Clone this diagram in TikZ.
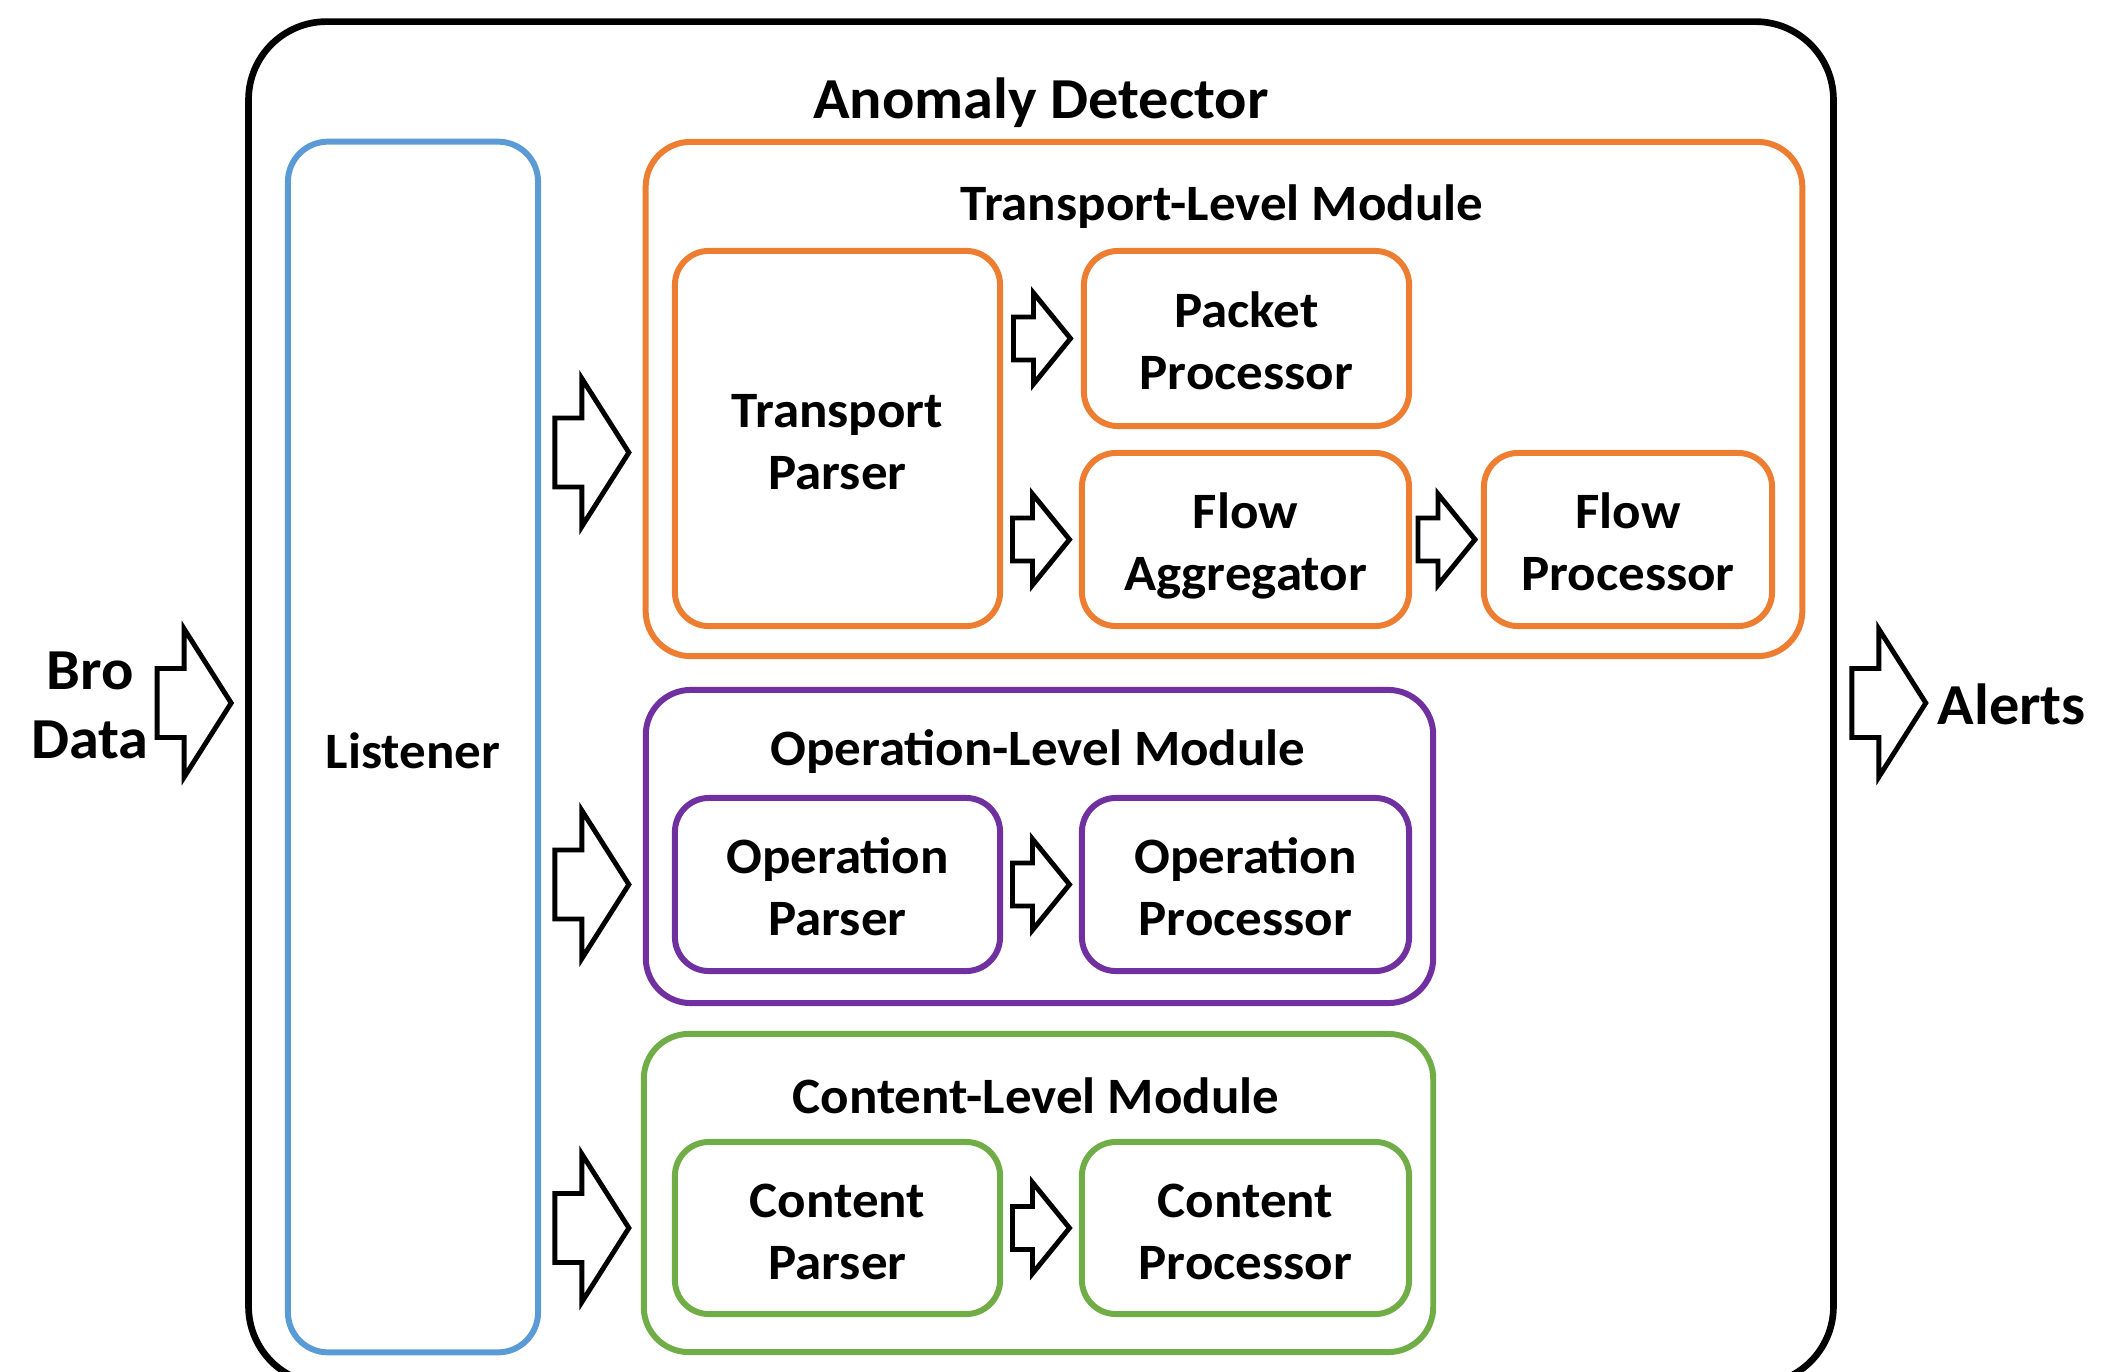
\documentclass[tikz,border=0pt]{standalone}
\usepackage{fontspec}
\setmainfont{Carlito}[FakeStretch=1.04]
\usetikzlibrary{calc}

\definecolor{lstblue}{HTML}{5B9BD5}
\definecolor{trorange}{HTML}{ED7D31}
\definecolor{oppurple}{HTML}{7030A0}
\definecolor{ctgreen}{HTML}{70AD47}

\begin{document}
\begin{tikzpicture}[x=0.01cm, y=-0.01cm,
  box/.style={draw, line width=1.7pt, rounded corners=0.34cm, align=center, inner sep=0pt,
    text height=29.2pt, text depth=0pt, font=\fontsize{14.5}{17.6}\selectfont\bfseries},
  modbox/.style={box, rounded corners=0.45cm},
  title/.style={inner sep=0pt, font=\fontsize{14.5}{17.6}\selectfont\bfseries},
  blockline/.style={draw=black, fill=white, line width=1.4pt, line join=miter},
  bigarrow/.pic={\draw[blockline] (-37,-34.5) -- (-10,-34.5) -- (-10,-74) -- (37,0)
    -- (-10,74) -- (-10,34.5) -- (-37,34.5) -- cycle;},
  smallarrow/.pic={\draw[blockline] (-28.5,-21.5) -- (-8.5,-21.5) -- (-8.5,-45.5) -- (28.5,0)
    -- (-8.5,45.5) -- (-8.5,21.5) -- (-28.5,21.5) -- cycle;}]
\useasboundingbox (0,0) rectangle (2120,1372);
\clip (0,0) rectangle (2120,1372);

% detector frame (runs past the lower edge)
\node[draw, line width=1.9pt, rounded corners=0.78cm, minimum width=15.84cm, minimum height=13.62cm] (detector) at (1041,703) {};
\node[title, font=\fontsize{16.5}{20}\selectfont\bfseries] (dettitle) at (1041,103) {Anomaly Detector};

\node[box, draw=lstblue, rounded corners=0.4cm, text height=12.3pt, minimum width=2.5cm, minimum height=12.1cm] (listener) at (413,747) {Listener};

% transport level
\node[modbox, draw=trorange, minimum width=11.56cm, minimum height=5.14cm] (transport) at (1224,399) {};
\node[title] (transporttitle) at (1222,207) {Transport-Level Module};
\node[box, draw=trorange, minimum width=3.25cm, minimum height=3.75cm] (tparser) at (837.5,438.5) {Transport\\Parser};
\node[box, draw=trorange, minimum width=3.25cm, minimum height=1.75cm] (packet) at (1246.5,338.5) {Packet\\Processor};
\node[box, draw=trorange, minimum width=3.27cm, minimum height=1.73cm] (flowagg) at (1245.5,539.5) {Flow\\Aggregator};
\node[box, draw=trorange, minimum width=2.88cm, minimum height=1.73cm] (flowproc) at (1628,539.5) {Flow\\Processor};

% operation level
\node[modbox, draw=oppurple, minimum width=7.87cm, minimum height=3.13cm] (operation) at (1039.5,846.5) {};
\node[title] (operationtitle) at (1038,752) {Operation-Level Module};
\node[box, draw=oppurple, minimum width=3.25cm, minimum height=1.73cm] (opparser) at (837.5,884.5) {Operation\\Parser};
\node[box, draw=oppurple, minimum width=3.27cm, minimum height=1.73cm] (opproc) at (1245.5,884.5) {Operation\\Processor};

% content level
\node[modbox, draw=ctgreen, minimum width=7.89cm, minimum height=3.18cm] (content) at (1038.5,1193) {};
\node[title] (contenttitle) at (1036,1096) {Content-Level Module};
\node[box, draw=ctgreen, minimum width=3.25cm, minimum height=1.72cm] (cparser) at (837.5,1228) {Content\\Parser};
\node[box, draw=ctgreen, minimum width=3.27cm, minimum height=1.72cm] (cproc) at (1245.5,1228) {Content\\Processor};

% in and out
\node[inner sep=0pt, align=center, font=\fontsize{16.5}{19.6}\selectfont\bfseries] (bro) at (90,705) {Bro\\Data};
\node[inner sep=0pt, anchor=west, font=\fontsize{16.5}{19.6}\selectfont\bfseries] (alerts) at (1937,704) {Alerts};

% block arrows
\pic at ($(detector.west)+(-51,0)$) {bigarrow};
\pic at ($(detector.east)+(52,0)$) {bigarrow};
\coordinate (lgap) at ($(listener.east)!.5!(transport.west)$);
\pic at ($(lgap |- tparser.center)+(0,14)$) {bigarrow};
\pic at (lgap |- opparser.center) {bigarrow};
\pic at (lgap |- cparser.center) {bigarrow};
\pic at ($(tparser.east |- packet.west)!.5!(packet.west)$) {smallarrow};
\pic at ($(tparser.east |- flowagg.west)!.5!(flowagg.west)$) {smallarrow};
\pic at ($(flowagg.east)!.5!(flowproc.west)$) {smallarrow};
\pic at ($(opparser.east)!.5!(opproc.west)$) {smallarrow};
\pic at ($(cparser.east)!.5!(cproc.west)$) {smallarrow};
\end{tikzpicture}
\end{document}
